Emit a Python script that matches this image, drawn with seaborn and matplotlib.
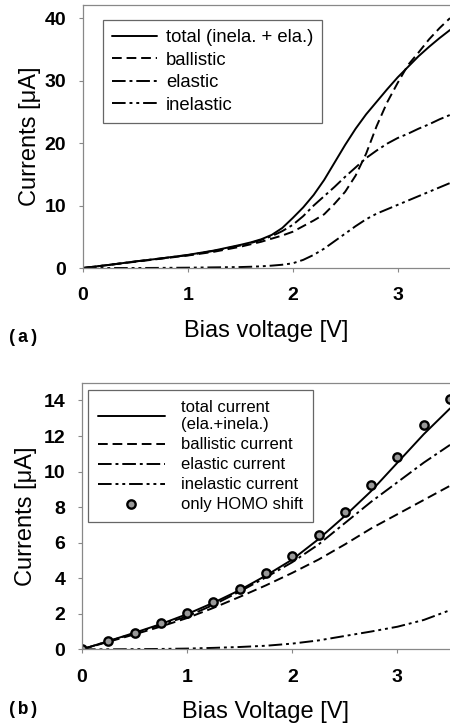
import numpy as np
import pandas as pd
import matplotlib
matplotlib.use("Agg")
import matplotlib.pyplot as plt
import seaborn as sns

# ---------------- data (a) ----------------
va = [0, 0.25, 0.5, 0.75, 1.0, 1.25, 1.5, 1.6, 1.7, 1.8, 1.9, 2.0, 2.1, 2.2, 2.3, 2.4, 2.5,
      2.6, 2.7, 2.8, 2.9, 3.0, 3.1, 3.2, 3.3, 3.4, 3.5]
a_total = [0, 0.5, 1.05, 1.55, 2.1, 2.8, 3.7, 4.1, 4.6, 5.3, 6.4, 8.0, 9.7, 11.7, 14.1, 16.9, 19.7,
           22.3, 24.6, 26.6, 28.6, 30.5, 32.2, 33.9, 35.4, 36.8, 38.1]
a_ballistic = [0, 0.5, 1.0, 1.5, 2.0, 2.6, 3.4, 3.8, 4.2, 4.7, 5.2, 5.8, 6.7, 7.6, 8.6, 10.3, 12.2,
               14.8, 18.3, 22.7, 26.5, 29.6, 32.5, 34.5, 36.6, 38.4, 40.0]
a_elastic = [0, 0.5, 1.05, 1.55, 2.05, 2.75, 3.6, 4.0, 4.5, 5.1, 5.9, 6.9, 8.3, 10.0, 11.5, 13.0, 14.6,
             16.1, 17.6, 18.8, 19.9, 20.8, 21.5, 22.3, 23.0, 23.8, 24.5]
a_inelastic = [0, 0, 0, 0.02, 0.05, 0.1, 0.15, 0.2, 0.27, 0.38, 0.52, 0.75, 1.3, 2.1, 3.1, 4.3, 5.5,
               6.7, 7.8, 8.7, 9.4, 10.1, 10.8, 11.5, 12.2, 12.9, 13.6]
a_labels = ["total (inela. + ela.)", "ballistic", "elastic", "inelastic"]

# ---------------- data (b) ----------------
vb = [0, 0.25, 0.5, 0.75, 1.0, 1.25, 1.5, 1.75, 2.0, 2.25, 2.5, 2.75, 3.0, 3.25, 3.5]
b_total = [0, 0.46, 0.93, 1.42, 1.98, 2.62, 3.33, 4.15, 5.05, 6.2, 7.5, 8.9, 10.5, 12.1, 13.55]
b_ballistic = [0, 0.42, 0.84, 1.28, 1.76, 2.33, 2.95, 3.6, 4.3, 5.05, 5.9, 6.8, 7.6, 8.4, 9.2]
b_elastic = [0, 0.45, 0.9, 1.38, 1.85, 2.5, 3.25, 4.05, 4.9, 5.9, 7.1, 8.3, 9.4, 10.5, 11.5]
b_inelastic = [0, 0, 0.01, 0.02, 0.04, 0.08, 0.13, 0.2, 0.32, 0.5, 0.75, 1.0, 1.27, 1.65, 2.2]
b_homo = [0, 0.47, 0.94, 1.46, 2.02, 2.68, 3.37, 4.27, 5.24, 6.42, 7.73, 9.23, 10.82, 12.6, 14.06]
b_labels = ["total current\n(ela.+inela.)", "ballistic current", "elastic current",
            "inelastic current", "only HOMO shift"]

sns.set_theme(style="white")
plt.rcParams['font.family'] = ['Liberation Sans', 'DejaVu Sans']
plt.rcParams['text.color'] = 'black'
plt.rcParams['axes.labelcolor'] = 'black'
plt.rcParams['xtick.color'] = 'black'
plt.rcParams['ytick.color'] = 'black'

fig = plt.figure(figsize=(4.5, 7.27), dpi=100)
ax1 = fig.add_axes([83 / 450, 1 - 268 / 727, (450 - 83) / 450, 263 / 727])
ax2 = fig.add_axes([82 / 450, 1 - 649.3 / 727, (450 - 82) / 450, 266.6 / 727])

dash_b = (0, (5, 2.5))
dash_e = (0, (7, 2, 1.5, 2))
dash_i = (0, (7, 2, 1.5, 2, 1.5, 2))
lw = 1.4

def style_axes(ax):
    for s in ["top", "left", "bottom"]:
        ax.spines[s].set_color("#888888")
        ax.spines[s].set_linewidth(0.9)
    ax.spines["right"].set_visible(False)
    ax.tick_params(axis="both", direction="out", length=3, width=0.8, color="#888888",
                   labelcolor="black", labelsize=14, bottom=True, left=True)
    ax.tick_params(axis="x", pad=11)
    ax.tick_params(axis="y", pad=9)
    for t in ax.get_xticklabels() + ax.get_yticklabels():
        t.set_fontweight("bold")
    ax.set_xlim(0, 3.5)

# ---- panel (a)
sns.lineplot(x=va, y=a_total, ax=ax1, color="black", lw=lw, label=a_labels[0])
sns.lineplot(x=va, y=a_ballistic, ax=ax1, color="black", lw=lw, linestyle=dash_b, label=a_labels[1])
sns.lineplot(x=va, y=a_elastic, ax=ax1, color="black", lw=lw, linestyle=dash_e, label=a_labels[2])
sns.lineplot(x=va, y=a_inelastic, ax=ax1, color="black", lw=lw, linestyle=dash_i, label=a_labels[3])
ax1.set_ylim(0, 42.1)
ax1.set_xticks([0, 1, 2, 3])
ax1.set_yticks([0, 10, 20, 30, 40])
style_axes(ax1)
ax1.set_xlabel("Bias voltage [V]", fontsize=17, labelpad=11)
ax1.set_ylabel("Currents [\u03bcA]", fontsize=17, labelpad=3)
leg1 = ax1.legend(loc="upper left", bbox_to_anchor=(20 / 367, 248 / 263), borderaxespad=0,
                  fontsize=13.3, handlelength=2.4, handletextpad=0.5, labelspacing=0.3,
                  fancybox=False, framealpha=1, edgecolor="#666666", borderpad=0.5)
leg1.get_frame().set_linewidth(0.9)
fig.text(0.015, 1 - 338 / 727, "(a)", family="Liberation Mono", fontsize=13,
         fontweight="bold", ha="left", va="center")

# ---- panel (b)
sns.lineplot(x=vb, y=b_total, ax=ax2, color="black", lw=lw, label=b_labels[0])
sns.lineplot(x=vb, y=b_ballistic, ax=ax2, color="black", lw=lw, linestyle=dash_b, label=b_labels[1])
sns.lineplot(x=vb, y=b_elastic, ax=ax2, color="black", lw=lw, linestyle=dash_e, label=b_labels[2])
sns.lineplot(x=vb, y=b_inelastic, ax=ax2, color="black", lw=lw, linestyle=dash_i, label=b_labels[3])
sns.lineplot(x=vb, y=b_homo, ax=ax2, color="black", lw=0, marker="o", markersize=6,
             markerfacecolor="#999999", markeredgecolor="black", markeredgewidth=1.7,
             label=b_labels[4])
ax2.set_ylim(0, 15)
ax2.set_xticks([0, 1, 2, 3])
ax2.set_yticks([0, 2, 4, 6, 8, 10, 12, 14])
style_axes(ax2)
ax2.set_xlabel("Bias Voltage [V]", fontsize=17, labelpad=11)
ax2.set_ylabel("Currents [\u03bcA]", fontsize=17, labelpad=5)
leg2 = ax2.legend(loc="upper left", bbox_to_anchor=(6 / 368, (649.3 - 390) / 266.6), borderaxespad=0,
                  fontsize=12, handlelength=4.0, handletextpad=1.0, labelspacing=0.3,
                  fancybox=False, framealpha=1, edgecolor="#666666", borderpad=0.6)
leg2.get_frame().set_linewidth(0.9)
fig.text(0.015, 1 - 710 / 727, "(b)", family="Liberation Mono", fontsize=13,
         fontweight="bold", ha="left", va="center")

fig.savefig("out.png", dpi=100)
